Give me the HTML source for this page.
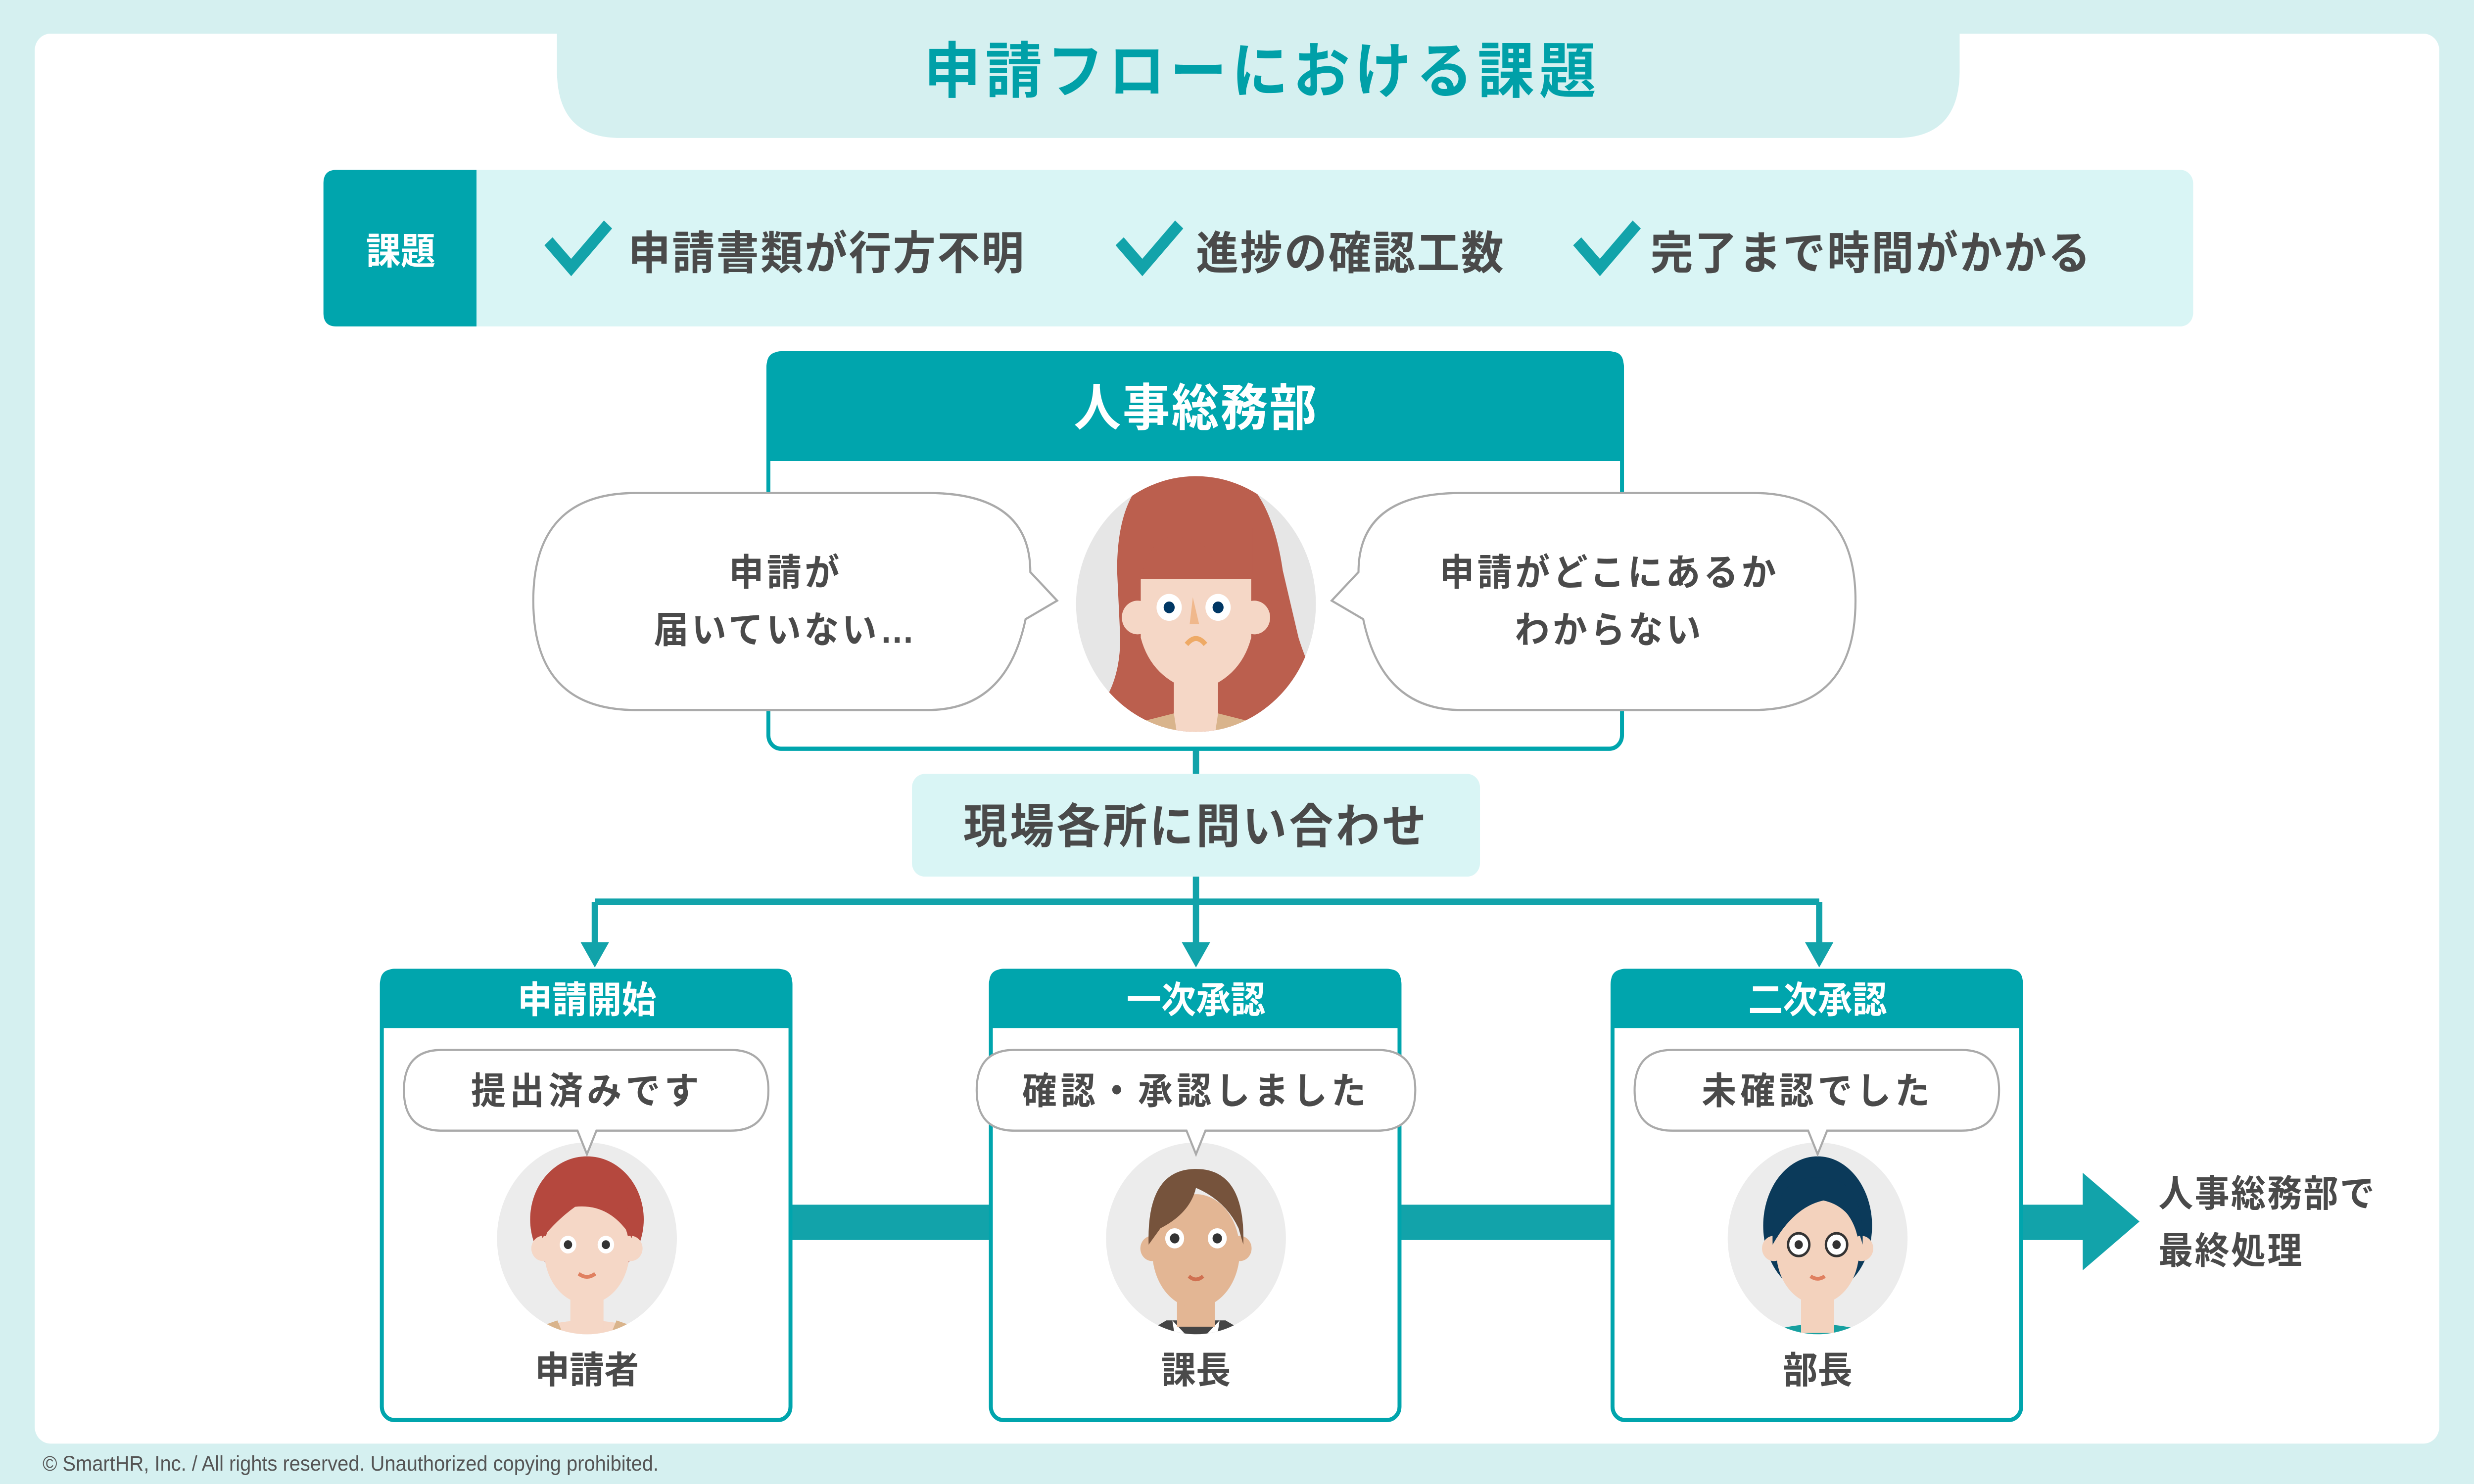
<!DOCTYPE html>
<html><head><meta charset="utf-8"><style>
html,body{margin:0;padding:0;background:#d5f0f0;width:100%;height:100%;overflow:hidden;}
svg{display:block;position:fixed;left:0;top:0;width:100vw;height:100vh}
text{font-family:"Liberation Sans","Noto Sans CJK JP",sans-serif;font-weight:bold;}
</style></head><body>
<svg viewBox="0 0 1568 882" preserveAspectRatio="none" xmlns="http://www.w3.org/2000/svg">
<defs>
<clipPath id="c"><circle cx="0" cy="0" r="76"/></clipPath>
<g id="woman">
 <circle r="76" fill="#e6e6e6"/>
 <g clip-path="url(#c)">
  <path d="M-50,-20 Q-50,-85 0,-85 Q45,-85 55,-20 L65,20 Q75,50 90,60 L90,90 L-80,90 L-60,60 Q-48,45 -48,20 Z" fill="#bb5f4e"/>
  <rect x="-14" y="30" width="28" height="60" fill="#f5d7c6"/>
  <path d="M-35,70 L-14,65 L-10,90 L-45,90Z M35,70 L14,65 L10,90 L45,90Z" fill="#d9b48c"/>
  <circle cx="-37" cy="8" r="10" fill="#f5d7c6"/><circle cx="37" cy="8" r="10" fill="#f5d7c6"/>
  <path d="M-35,-15 L35,-15 L35,20 Q28,45 0,52 Q-28,45 -35,20Z" fill="#f5d7c6"/>
  <path d="M-36,-10 Q-30,-40 -15,-40 Q5,-40 10,-28 Q20,-15 36,-18 L36,-45 L-36,-45Z" fill="#bb5f4e"/>
  <circle cx="-17" cy="2" r="8" fill="#fff"/><circle cx="14" cy="2" r="8" fill="#fff"/>
  <circle cx="-17" cy="2" r="3.5" fill="#003764"/><circle cx="14" cy="2" r="3.5" fill="#003764"/>
  <path d="M-2,-4 L2,12 L-4,12Z" fill="#f0b88c"/>
  <path d="M-6,24 Q0,17 6,24" stroke="#eeaa66" stroke-width="3" fill="none"/>
 </g>
</g>
</defs>
<rect width="1568" height="882" fill="#d5f0f0"/>
<rect x="22" y="20" width="1524" height="838" rx="10" fill="#fff"/>
<path d="M353,0 H1242 V42 Q1242,82 1202,82 H393 Q353,82 353,42Z" fill="#d5f0f0"/>
<text x="800" y="55" font-size="36" fill="#00a0a8" text-anchor="middle" letter-spacing="3">申請フローにおける課題</text>

<rect x="205" y="101" width="1185" height="93" rx="8" fill="#d9f5f5"/>
<path d="M213,101 H302 V194 H213 Q205,194 205,186 V109 Q205,101 213,101Z" fill="#00a5ad"/>
<text x="254" y="157" font-size="22" fill="#fff" text-anchor="middle">課題</text>
<g stroke="#12a3aa" stroke-width="7" fill="none" stroke-linecap="square">
<path d="M350,146 L362,159 L383,136"/><path d="M712,146 L724,159 L745,136"/><path d="M1002,146 L1014,159 L1035,136"/></g>
<g font-size="27" fill="#4a4a4a" letter-spacing="1"><text x="398" y="160">申請書類が行方不明</text><text x="758" y="160">進捗の確認工数</text><text x="1046" y="160">完了まで時間がかかる</text></g>

<rect x="487" y="210" width="541" height="235" rx="8" fill="#fff" stroke="#00a5ad" stroke-width="2.5"/>
<path d="M495,209 H1021 Q1029,209 1029,217 V274 H486 V217 Q486,209 495,209Z" fill="#00a5ad"/>
<text x="758" y="253" font-size="30" fill="#fff" text-anchor="middle" letter-spacing="1">人事総務部</text>
<g fill="#fff" stroke="#aaa" stroke-width="1.3">
<path d="M403,293 H588 Q653,293 653,340 L670,357 L650,368 Q638,422 588,422 H403 Q338,422 338,357 Q338,293 403,293Z"/>
<path d="M926,293 H1111 Q1176,293 1176,357 Q1176,422 1111,422 H926 Q876,422 864,368 L844,357 L861,340 Q861,293 926,293Z"/>
</g>
<g font-size="22" fill="#4a4a4a" text-anchor="middle" letter-spacing="2"><text x="498" y="348">申請が</text><text x="498" y="382">届いていない…</text><text x="1020" y="348">申請がどこにあるか</text><text x="1020" y="382">わからない</text></g>
<use href="#woman" transform="translate(758,359)"/>

<g stroke="#12a3aa" stroke-width="4" fill="none"><path d="M758,446 V460 M758,521 V536 M377,536 H1153 M377,536 V565 M758,536 V565 M1153,536 V565"/></g>
<g fill="#12a3aa"><path d="M368,560 H386 L377,575Z"/><path d="M749,560 H767 L758,575Z"/><path d="M1144,560 H1162 L1153,575Z"/></g>
<rect x="578" y="460" width="360" height="61" rx="8" fill="#d9f5f5"/>
<text x="758" y="501" font-size="28" fill="#4a4a4a" text-anchor="middle" letter-spacing="1.5">現場各所に問い合わせ</text>

<g fill="#12a3aa"><rect x="500" y="716" width="130" height="21"/><rect x="886" y="716" width="138" height="21"/><rect x="1280" y="716" width="42" height="21"/><path d="M1320,697 L1356,726 L1320,755Z"/></g>
<g font-size="22" fill="#4a4a4a" letter-spacing="1"><text x="1368" y="717">人事総務部で</text><text x="1368" y="751">最終処理</text></g>

<rect x="242" y="577" width="259" height="267" rx="8" fill="#fff" stroke="#00a5ad" stroke-width="2.5"/>
<path d="M250,576 H494 Q502,576 502,584 V611 H241 V584 Q241,576 250,576Z" fill="#00a5ad"/>
<rect x="628" y="577" width="259" height="267" rx="8" fill="#fff" stroke="#00a5ad" stroke-width="2.5"/>
<path d="M636,576 H880 Q888,576 888,584 V611 H627 V584 Q627,576 636,576Z" fill="#00a5ad"/>
<rect x="1022" y="577" width="259" height="267" rx="8" fill="#fff" stroke="#00a5ad" stroke-width="2.5"/>
<path d="M1030,576 H1274 Q1282,576 1282,584 V611 H1021 V584 Q1021,576 1030,576Z" fill="#00a5ad"/>
<g font-size="22" fill="#fff" text-anchor="middle"><text x="372" y="602">申請開始</text><text x="758" y="602">一次承認</text><text x="1152" y="602">二次承認</text></g>

<g transform="translate(372,736) scale(0.75)">
 <circle r="76" fill="#ececec"/>
 <g clip-path="url(#c)">
  <ellipse cx="0" cy="-15" rx="48" ry="50" fill="#b5483e"/>
  <ellipse cx="0" cy="95" rx="70" ry="30" fill="#f5d7c6"/><rect x="-14" y="30" width="28" height="50" fill="#f5d7c6"/>
  <path d="M-70,80 L-25,65 L-14,90Z M70,80 L25,65 L14,90Z" fill="#d9b48c"/>
  <circle cx="-37" cy="8" r="10" fill="#f5d7c6"/><circle cx="37" cy="8" r="10" fill="#f5d7c6"/>
  <ellipse cx="0" cy="10" rx="36" ry="42" fill="#f5d7c6"/>
  <path d="M-38,0 Q-38,-45 0,-45 Q38,-45 38,0 Q20,-28 -10,-25 Q-25,-15 -38,0Z" fill="#b5483e"/>
  <circle cx="-16" cy="5" r="7" fill="#fff"/><circle cx="16" cy="5" r="7" fill="#fff"/>
  <circle cx="-16" cy="5" r="3.5" fill="#333"/><circle cx="16" cy="5" r="3.5" fill="#333"/>
  <path d="M-7,28 Q0,33 7,28" stroke="#e08060" stroke-width="3" fill="none"/>
 </g>
</g>
<g transform="translate(758,736) scale(0.75)">
 <circle r="76" fill="#ececec"/>
 <g clip-path="url(#c)">
  <path d="M-70,90 L-25,65 H25 L70,90Z" fill="#444"/><path d="M-20,65 L0,85 L20,65 L15,95 H-15Z" fill="#fff"/><path d="M-6,85 H6 L8,95 H-8Z" fill="#2d8040"/>
  <rect x="-16" y="30" width="32" height="40" fill="#e3b694"/>
  <circle cx="-37" cy="8" r="10" fill="#e3b694"/><circle cx="37" cy="8" r="10" fill="#e3b694"/>
  <ellipse cx="0" cy="10" rx="37" ry="45" fill="#e3b694"/>
  <path d="M-40,5 Q-42,-55 0,-55 Q42,-55 40,5 L36,-8 Q25,-30 0,-40 Q-5,-20 -30,-8Z" fill="#76533c"/>
  <circle cx="-18" cy="0" r="8" fill="#fff"/><circle cx="18" cy="0" r="8" fill="#fff"/>
  <circle cx="-18" cy="0" r="4" fill="#333"/><circle cx="18" cy="0" r="4" fill="#333"/>
  <path d="M-6,30 Q0,35 6,30" stroke="#d07050" stroke-width="3" fill="none"/>
 </g>
</g>
<g transform="translate(1152,736) scale(0.75)">
 <circle r="76" fill="#ececec"/>
 <g clip-path="url(#c)">
  <ellipse cx="0" cy="-10" rx="46" ry="55" fill="#0b3a5a"/>
  <ellipse cx="0" cy="100" rx="70" ry="32" fill="#16a0a0"/>
  <rect x="-14" y="30" width="28" height="45" fill="#f3d2bd"/>
  <circle cx="-37" cy="8" r="10" fill="#f3d2bd"/><circle cx="37" cy="8" r="10" fill="#f3d2bd"/>
  <ellipse cx="0" cy="10" rx="35" ry="42" fill="#f3d2bd"/>
  <path d="M-38,5 Q-40,-50 0,-48 Q40,-50 38,5 Q30,-25 5,-30 Q-20,-25 -38,5Z" fill="#0b3a5a"/>
  <circle cx="-16" cy="5" r="9" fill="#fff" stroke="#333" stroke-width="2"/><circle cx="16" cy="5" r="9" fill="#fff" stroke="#333" stroke-width="2"/>
  <circle cx="-16" cy="5" r="3.5" fill="#333"/><circle cx="16" cy="5" r="3.5" fill="#333"/>
  <path d="M-6,30 Q0,34 6,30" stroke="#e08060" stroke-width="3" fill="none"/>
 </g>
</g>

<g fill="#fff" stroke="#aaa" stroke-width="1.3">
<path d="M280,624 H463 Q487,624 487,648 Q487,672 463,672 H378 L372,686 L366,672 H280 Q256,672 256,648 Q256,624 280,624Z"/>
<path d="M643,624 H873 Q897,624 897,648 Q897,672 873,672 H764 L758,686 L752,672 H643 Q619,672 619,648 Q619,624 643,624Z"/>
<path d="M1060,624 H1243 Q1267,624 1267,648 Q1267,672 1243,672 H1158 L1152,686 L1146,672 H1060 Q1036,672 1036,648 Q1036,624 1060,624Z"/>
</g>
<g font-size="22" fill="#4a4a4a" text-anchor="middle" letter-spacing="2.5">
<text x="372" y="656">提出済みです</text><text x="758" y="656">確認・承認しました</text><text x="1152" y="656">未確認でした</text>
<text x="372" y="822" letter-spacing="0">申請者</text><text x="758" y="822" letter-spacing="0">課長</text><text x="1152" y="822" letter-spacing="0">部長</text></g>

<text x="27" y="874" font-size="12.5" fill="#555" style="font-weight:normal">© SmartHR, Inc. / All rights reserved. Unauthorized copying prohibited.</text>
</svg>
</body></html>
